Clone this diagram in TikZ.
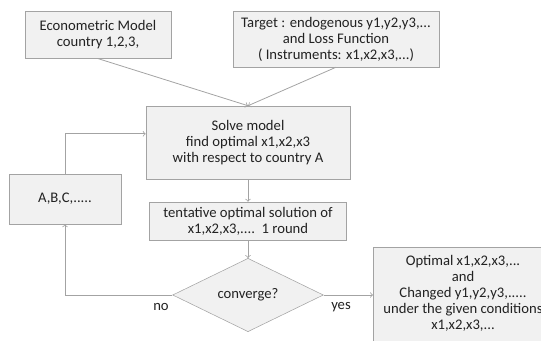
\documentclass[tikz,border=0pt]{standalone}
\usepackage{fontspec}
\setmainfont{Carlito}
\usetikzlibrary{shapes.geometric}
\definecolor{boxfill}{HTML}{F1F1F1}
\definecolor{boxline}{HTML}{A3A3A3}
\definecolor{ink}{HTML}{222222}
\begin{document}
\begin{tikzpicture}[x=.75pt,y=-.75pt,
    every node/.style={text=ink, font=\fontsize{11}{12}\selectfont},
    blk/.style={draw=boxline, fill=boxfill, align=center, inner sep=2pt},
    dec/.style={draw=boxline, fill=boxfill, diamond, inner sep=0pt, minimum width=113pt, minimum height=37.5pt},
    conn/.style={draw=boxline, semithick, ->}]
      \useasboundingbox (0,0) rectangle (541,341);
      % inputs
      \node (econ) at (98,35) [blk, minimum width=109.5pt, minimum height=35pt] {Econometric Model\\country 1,2,3,};
      \node (target) at (336,39) [blk, minimum width=154.5pt, minimum height=42pt] {Target : endogenous y1,y2,y3,...\\and Loss Function\\( Instruments: x1,x2,x3,...)};
      % loop
      \node (solve) at (248,142.5) [blk, minimum width=153pt, minimum height=54.75pt] {Solve model\\find optimal x1,x2,x3\\with respect to country A};
      \node (abc) at (65,199) [blk, minimum width=84pt, minimum height=37.5pt] {A,B,C,.....};
      \node (tent) at (248,221) [blk, minimum width=147.75pt, minimum height=28.5pt] {tentative optimal solution of\\x1,x2,x3,....\ \ 1 round};
      \node (conv) at (248,295) [dec] {converge?};
      % result, running off the page
      \node (finalbox) at (373,247) [fill=boxfill, anchor=north west, minimum width=150pt, minimum height=80pt] {};
      \draw[boxline] (finalbox.south west) -- (finalbox.north west) -- (finalbox.north east);
      \node (final) at (463,293) [align=center] {Optimal x1,x2,x3,...\\and\\Changed y1,y2,y3,.....\\under the given conditions\\x1,x2,x3,...};
      \node (no) at (161,307) {no};
      \node (yes) at (341,307) {yes};

      \draw[conn] (econ.south) -- (solve.north);
      \draw[conn] (target.south) -- (solve.north);
      \draw[conn] (solve.south) -- (tent.north);
      \draw[conn] (tent.south) -- (conv.north);
      \draw[conn] (conv.west) -| (abc.south);
      \draw[conn] (abc.north) |- ([yshift=6.5pt]solve.west);
      \draw[conn] (conv.east) -- (conv.east -| finalbox.west);
\end{tikzpicture}
\end{document}
